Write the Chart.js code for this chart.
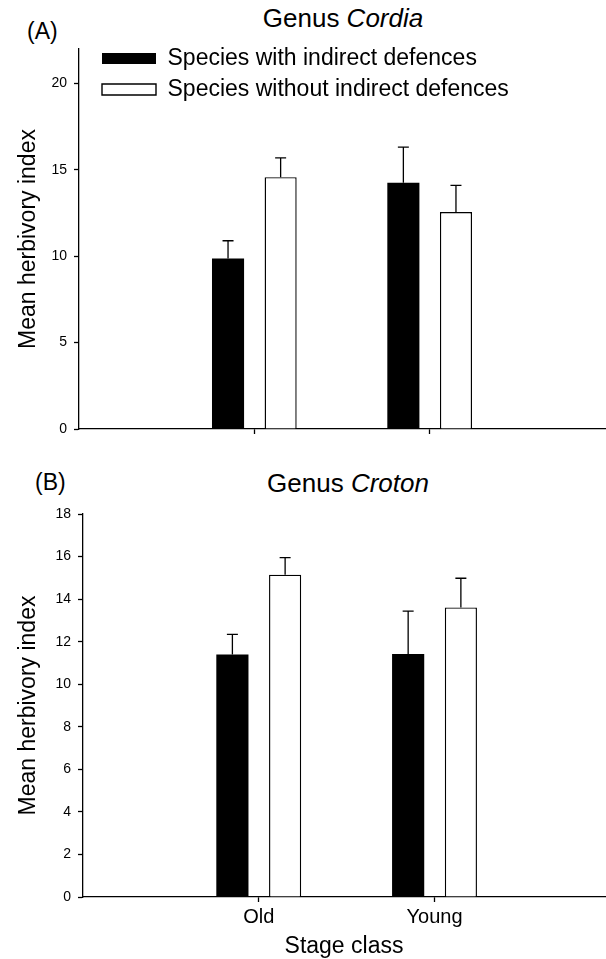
<!DOCTYPE html>
<html lang="en">

<head>
    <meta charset="UTF-8">
    <title>Mean herbivory index by stage class</title>
    <style>
        body { margin: 0; background: #fff; }
        #wrap { position: relative; width: 606px; height: 959px; overflow: hidden; font-family: "Liberation Sans", Arial, sans-serif; color: #000; }
        .panel { position: absolute; left: 0; }
        .tag { position: absolute; font-size: 23px; line-height: 1; }
        .title { position: absolute; font-size: 26px; line-height: 1; white-space: nowrap; transform: translateX(-50%); }
    </style>
</head>

<body>
    <div id="wrap">
        <div class="tag" style="left:27px; top:20px;">(A)</div>
        <div class="title" style="left:343px; top:5px;">Genus <i>Cordia</i></div>
        <canvas id="chartA" class="panel" style="top:0;" width="606" height="460"></canvas>

        <div class="tag" style="left:35px; top:471px;">(B)</div>
        <div class="title" style="left:348px; top:470px;">Genus <i>Croton</i></div>
        <canvas id="chartB" class="panel" style="top:460px;" width="606" height="499"></canvas>
    </div>

    <script src="https://cdn.jsdelivr.net/npm/chart.js"></script>
    <script>
        // dados
        const stageClasses = ['Old', 'Young'];
        const seriesNames = ['Species with indirect defences', 'Species without indirect defences'];

        // (A) Cordia
        const cordiaWith = [9.87, 14.26];
        const cordiaWithSE = [1.03, 2.06];
        const cordiaWithout = [14.58, 12.56];
        const cordiaWithoutSE = [1.12, 1.54];
        const cordiaTicks = [0, 5, 10, 15, 20];

        // (B) Croton
        const crotonWith = [11.40, 11.42];
        const crotonWithSE = [0.94, 2.02];
        const crotonWithout = [15.15, 13.61];
        const crotonWithoutSE = [0.80, 1.37];
        const crotonTicks = [0, 2, 4, 6, 8, 10, 12, 14, 16, 18];

        Chart.defaults.font.family = '"Liberation Sans", Arial, sans-serif';
        Chart.defaults.color = '#000';

        // barras de erro (só para cima) desenhadas a partir da escala y
        const errorBars = {
            id: 'errorBars',
            afterDatasetsDraw(chart) {
                const ctx = chart.ctx;
                const y = chart.scales.y;
                ctx.save();
                ctx.strokeStyle = '#000';
                ctx.lineWidth = 1.3;
                chart.data.datasets.forEach((ds, i) => {
                    chart.getDatasetMeta(i).data.forEach((bar, j) => {
                        const top = y.getPixelForValue(ds.data[j].y + ds.errors[j]);
                        ctx.beginPath();
                        ctx.moveTo(bar.x, bar.y);
                        ctx.lineTo(bar.x, top);
                        ctx.moveTo(bar.x - 5.5, top);
                        ctx.lineTo(bar.x + 5.5, top);
                        ctx.stroke();
                    });
                });
                ctx.restore();
            }
        };

        // legenda dentro da área do gráfico, um pouco deslocada
        const legendShift = {
            id: 'legendShift',
            afterLayout(chart, args, opts) {
                const lg = chart.legend;
                if (!lg || !lg.options.display) return;
                const ca = chart.chartArea;
                lg.left = ca.left + opts.dx;
                lg.right = ca.right;
                lg.top = ca.top + opts.dy;
                lg.bottom = ca.bottom;
            }
        };

        function toPoints(values) {
            return values.map((v, i) => ({ x: i + 1, y: v }));
        }

        function makeChart(id, withVals, withSE, withoutVals, withoutSE, yTicks, opts) {
            const ctx = document.getElementById(id).getContext('2d');
            return new Chart(ctx, {
                type: 'bar',
                data: {
                    datasets: [{
                        label: seriesNames[0],
                        data: toPoints(withVals),
                        errors: withSE,
                        backgroundColor: '#000',
                        borderColor: '#000',
                        borderWidth: 0
                    }, {
                        label: seriesNames[1],
                        data: toPoints(withoutVals),
                        errors: withoutSE,
                        backgroundColor: '#fff',
                        borderColor: '#000',
                        borderWidth: 1.4
                    }]
                },
                options: {
                    responsive: false,
                    animation: false,
                    events: [],
                    categoryPercentage: 0.6,
                    barPercentage: 0.61,
                    layout: { padding: { top: opts.top, right: 1, left: 0, bottom: 0 } },
                    scales: {
                        x: {
                            type: 'linear',
                            min: 0,
                            max: opts.xMax,
                            offset: false,
                            afterBuildTicks: (axis) => { axis.ticks = stageClasses.map((s, i) => ({ value: i + 1 })); },
                            afterFit: (scale) => { scale.height = opts.xHeight; },
                            border: { display: true, color: '#000', width: 1.3 },
                            grid: { offset: false, drawOnChartArea: false, drawTicks: true, tickLength: 5, tickColor: '#000', tickWidth: 1.3 },
                            ticks: {
                                display: opts.showLabels,
                                padding: 3,
                                font: { size: 20 },
                                callback: (v) => stageClasses[v - 1]
                            },
                            title: {
                                display: opts.showLabels,
                                text: 'Stage class',
                                font: { size: 23, lineHeight: 1 },
                                padding: { top: 0, bottom: 1 }
                            }
                        },
                        y: {
                            min: 0,
                            max: opts.yMax,
                            afterBuildTicks: (axis) => { axis.ticks = yTicks.map(v => ({ value: v })); },
                            afterFit: (scale) => { scale.width = opts.yWidth; },
                            border: { display: true, color: '#000', width: 1.3 },
                            grid: { drawOnChartArea: false, drawTicks: true, tickLength: 5, tickColor: '#000', tickWidth: 1.3 },
                            ticks: { padding: 7, font: { size: 14 } },
                            title: {
                                display: true,
                                text: 'Mean herbivory index',
                                font: { size: 23, lineHeight: 1 },
                                padding: { top: 17, bottom: 0 }
                            }
                        }
                    },
                    plugins: {
                        legend: {
                            display: opts.legend,
                            position: 'chartArea',
                            align: 'start',
                            labels: {
                                boxWidth: 54,
                                boxHeight: 11,
                                padding: 8,
                                font: { size: 23 }
                            }
                        },
                        legendShift: { dx: 15, dy: -10 },
                        tooltip: { enabled: false }
                    }
                },
                plugins: [errorBars, legendShift]
            });
        }

        makeChart('chartA', cordiaWith, cordiaWithSE, cordiaWithout, cordiaWithoutSE, cordiaTicks,
            { top: 49, xMax: 3, xHeight: 31, yWidth: 79, yMax: 22, legend: true, showLabels: false });

        makeChart('chartB', crotonWith, crotonWithSE, crotonWithout, crotonWithoutSE, crotonTicks,
            { top: 54, xMax: 2.97, xHeight: 62, yWidth: 83, yMax: 18, legend: false, showLabels: true });
    </script>
</body>

</html>
